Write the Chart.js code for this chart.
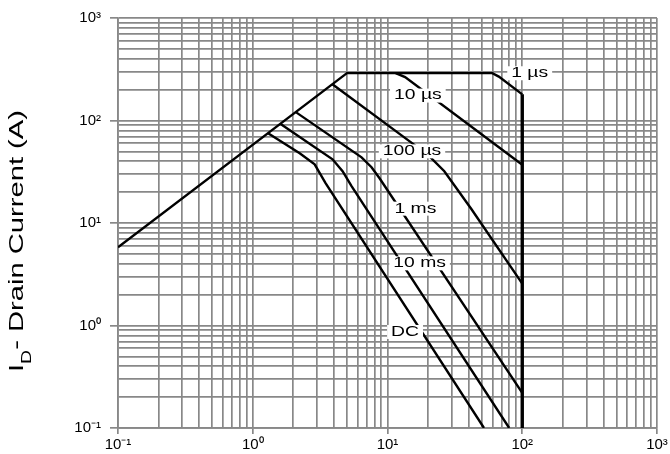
<!DOCTYPE html>
<html>
<head>
<meta charset="utf-8">
<script src="https://cdn.jsdelivr.net/npm/chart.js@4.4.0/dist/chart.umd.min.js"></script>
<style>
  html, body { margin: 0; padding: 0; background: #fff; }
  #wrap { width: 670px; height: 454px; position: relative; }
</style>
</head>
<body>
<div id="wrap"><canvas id="soaChart"></canvas></div>
<script>
// safe operating area: drain-source voltage (V) against drain current (A)
const limitV = [0.1, 5, 60, 67, 100];
const limitI = [5.8, 290, 290, 268, 180];
const edgeV = [100, 100];
const edgeI = [180, 0.1];
const us10V = [11.5, 13.5, 100];
const us10I = [290, 265, 37];
const us100V = [3.9, 15.3, 20.5, 26.4, 41.9, 100];
const us100I = [226, 59.8, 44.7, 32, 13.7, 2.56];
const ms1V = [2.1, 6.42, 7.61, 8.73, 100];
const ms1I = [120, 43.7, 35, 27.3, 0.22];
const ms10V = [1.6, 3.91, 4.64, 5.41, 80];
const ms10I = [93, 41.8, 32, 22.9, 0.1];
const dcV = [1.3, 2.23, 2.88, 3.47, 52];
const dcI = [75, 47.8, 37.4, 24.5, 0.1];

// curve captions and where they sit
const curveNames = ['1 µs', '10 µs', '100 µs', '1 ms', '10 ms', 'DC'];
const nameV = [113.6, 16.8, 15.2, 16.1, 17.3, 13.5];
const nameI = [289, 175, 50, 13.8, 4.04, 0.865];

const decadeValues = [0.1, 1, 10, 100, 1000];
const decadeLabels = ['10⁻¹', '10⁰', '10¹', '10²', '10³'];
const minorSteps = [2, 3, 4, 5, 6, 7, 8, 9];

const FONT = "'Liberation Sans', Arial, sans-serif";
const GRID = '#888888';

function pts(vs, is) {
  return vs.map((v, k) => ({ x: v, y: is[k] }));
}

function logTicks() {
  const out = [];
  decadeValues.forEach((d, i) => {
    out.push({ value: d, major: true });
    if (i < decadeValues.length - 1) {
      minorSteps.forEach(m => out.push({ value: +(d * m).toPrecision(3), major: false }));
    }
  });
  return out;
}

function tickLabel(value, index, ticks) {
  const t = ticks[index];
  if (!t || !t.major) return '';
  const i = decadeValues.findIndex(d => Math.abs(d - t.value) / d < 1e-6);
  return i >= 0 ? decadeLabels[i] : '';
}

function lineSet(vs, is, width) {
  return {
    data: pts(vs, is),
    showLine: true,
    borderColor: '#000',
    borderWidth: width,
    pointRadius: 0,
    tension: 0,
    fill: false
  };
}

const captions = {
  id: 'captions',
  afterDatasetsDraw(chart) {
    const { ctx, scales } = chart;
    const sx = 1.38;
    ctx.save();
    ctx.font = '14px ' + FONT;
    ctx.textAlign = 'center';
    ctx.textBaseline = 'middle';
    curveNames.forEach((txt, i) => {
      const px = scales.x.getPixelForValue(nameV[i]);
      const py = scales.y.getPixelForValue(nameI[i]);
      const w = ctx.measureText(txt).width * sx;
      ctx.fillStyle = '#fff';
      ctx.fillRect(px - w / 2 - 4, py - 7, w + 8, 14);
      ctx.save();
      ctx.translate(px, py);
      ctx.scale(sx, 1);
      ctx.fillStyle = '#000';
      ctx.fillText(txt, 0, 0);
      ctx.restore();
    });
    ctx.restore();
  },
  afterDraw(chart) {
    // y title with subscript D
    const ctx = chart.ctx;
    const big = '21px ' + FONT, small = '14px ' + FONT;
    const p1 = 'I', p2 = 'D', p3 = '- Drain Current (A)';
    ctx.save();
    ctx.font = big;
    const w1 = ctx.measureText(p1).width;
    const w3 = ctx.measureText(p3).width;
    ctx.font = small;
    const w2 = ctx.measureText(p2).width;
    const len = 262;
    const s = len / (w1 + w2 + w3);
    ctx.translate(23, 372);
    ctx.rotate(-Math.PI / 2);
    ctx.scale(s, 1);
    ctx.fillStyle = '#000';
    ctx.textBaseline = 'alphabetic';
    ctx.textAlign = 'left';
    ctx.font = big;
    ctx.fillText(p1, 0, 0);
    ctx.font = small;
    ctx.fillText(p2, w1, 8);
    ctx.font = big;
    ctx.fillText(p3, w1 + w2, 0);
    ctx.restore();
  }
};

function axis(extra) {
  return Object.assign({
    type: 'logarithmic',
    min: 0.1,
    max: 1000,
    afterBuildTicks: scale => { scale.ticks = logTicks(); },
    border: { color: GRID, width: 1.7 }
  }, extra);
}

const tickColor = c => (c.tick && c.tick.major ? GRID : 'rgba(0,0,0,0)');

new Chart(document.getElementById('soaChart'), {
  type: 'scatter',
  data: {
    datasets: [
      lineSet(limitV, limitI, 2.4),
      lineSet(edgeV, edgeI, 3.4),
      lineSet(us10V, us10I, 2.4),
      lineSet(us100V, us100I, 2.4),
      lineSet(ms1V, ms1I, 2.4),
      lineSet(ms10V, ms10I, 2.4),
      lineSet(dcV, dcI, 2.4)
    ]
  },
  options: {
    responsive: true,
    maintainAspectRatio: false,
    animation: false,
    layout: { padding: { left: 0, right: 13, top: 15, bottom: 0 } },
    plugins: { legend: { display: false }, tooltip: { enabled: false } },
    scales: {
      x: axis({
        position: 'bottom',
        afterFit: scale => { scale.height = 26; },
        grid: { color: GRID, lineWidth: 1.7, tickLength: 6, tickWidth: 1.7, tickColor },
        ticks: {
          autoSkip: false, maxRotation: 0, minRotation: 0, padding: 2,
          color: '#000', font: { family: FONT, size: 15 },
          callback: tickLabel
        }
      }),
      y: axis({
        position: 'left',
        afterFit: scale => { scale.width = 118; },
        grid: { color: GRID, lineWidth: 1.7, tickLength: 8, tickWidth: 1.7, tickColor },
        ticks: {
          autoSkip: false, padding: 9,
          color: '#000', font: { family: FONT, size: 15 },
          callback: tickLabel
        }
      })
    }
  },
  plugins: [captions]
});
</script>
</body>
</html>
